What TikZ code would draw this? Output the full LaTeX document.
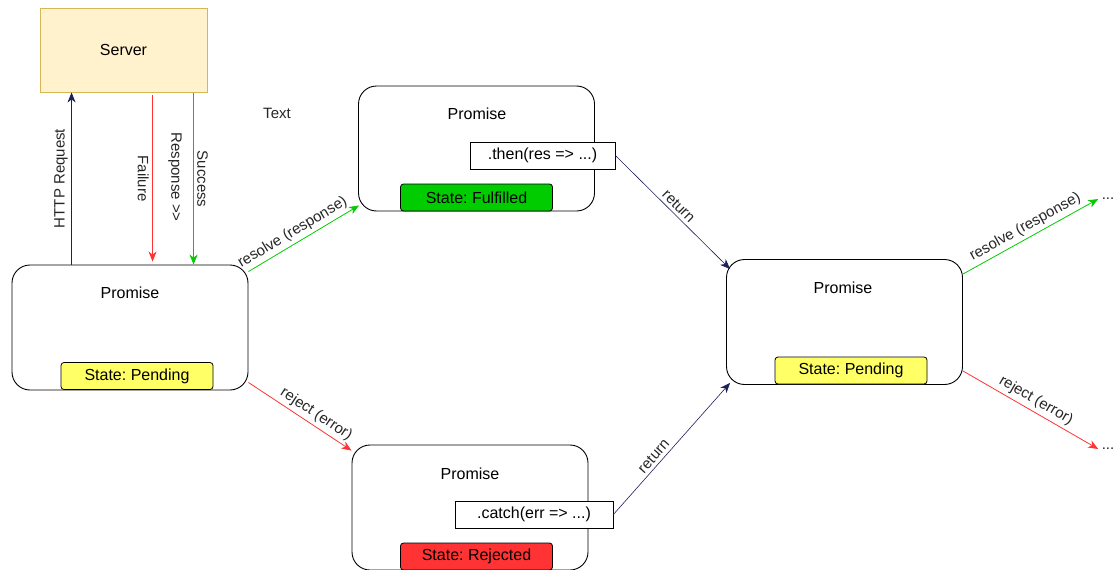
\documentclass[tikz,border=0pt]{standalone}
\usepackage{fontspec}
\setmainfont{Liberation Sans}
\usetikzlibrary{arrows.meta,calc}
\frenchspacing

\definecolor{srvfill}{HTML}{FFF2CC}
\definecolor{srvline}{HTML}{D6B656}
\definecolor{navyline}{HTML}{1F1F5C}
\definecolor{okgreen}{HTML}{00CC00}
\definecolor{errred}{HTML}{FF3333}
\definecolor{pendyellow}{HTML}{FFFF66}

\tikzset{
    promise/.style={draw, rounded corners=18pt, minimum width=236pt, minimum height=125pt, line width=0.9pt, inner sep=0pt},
    statebox/.style={draw, rounded corners=3pt, minimum width=152pt, minimum height=27pt, inner sep=0pt, line width=0.8pt},
    callbox/.style={draw, fill=white, minimum height=27pt, inner sep=0pt, line width=0.8pt},
    flow/.style={-{Stealth[length=10pt,width=8pt,inset=3pt]}, line width=0.8pt},
    lbl/.style={font=\fontsize{15}{17}\selectfont, text=black!85},
}

\begin{document}
\begin{tikzpicture}[x=1pt, y=-1pt, font=\fontsize{16}{18}\selectfont]

    \useasboundingbox (0,0) rectangle (1117,570);

    % Server
    \node[draw=srvline, fill=srvfill, line width=0.9pt, minimum width=167pt, minimum height=84pt] (server) at (123.5,50) {Server};
    \node[lbl] (note) at (277,113) {Text};

    % Promise (pending, left)
    \node[promise] (p1) at (130,327.5) {};
    \node (p1title) at (130,293) {Promise};
    \node[statebox, fill=pendyellow] (p1state) at (137,376) {State: Pending};

    % Promise (fulfilled, top)
    \node[promise] (p2) at (476.5,148.5) {};
    \node (p2title) at (477,114) {Promise};
    \node[callbox, minimum width=145pt] (then) at (542.5,155.5) {.then(res => ...)};
    \node[statebox, fill=okgreen] (p2state) at (476.5,197.5) {State: Fulfilled};

    % Promise (rejected, bottom)
    \node[promise] (p3) at (470,507.5) {};
    \node (p3title) at (470,474) {Promise};
    \node[callbox, minimum width=158pt] (catch) at (534,514.5) {.catch(err => ...)};
    \node[statebox, fill=errred] (p3state) at (476.5,556.5) {State: Rejected};

    % Promise (pending, right)
    \node[promise] (p4) at (844.5,322) {};
    \node (p4title) at (843,288) {Promise};
    \node[statebox, fill=pendyellow] (p4state) at (851,370.5) {State: Pending};

    % next steps
    \node[lbl] (nextok) at (1108,199) {...};
    \node[lbl] (nexterr) at (1108,449) {...};

    % request and answers between server and promise
    \coordinate (req) at ($(server.south west)+(32,0)$);
    \coordinate (fail) at ($(server.south west)+(113,3)$);
    \coordinate (succ) at ($(server.south west)+(154,1)$);
    \draw[flow, navyline] (req |- p1.north) -- node[lbl, rotate=90, anchor=south] {HTTP Request} (req);
    \draw[flow, errred] (fail) -- node[lbl, rotate=-90, anchor=north] {Failure} ($(fail |- p1.north)+(0,-3)$);
    \draw[flow, okgreen] (succ) -- node[lbl, rotate=-90, anchor=south] {Success} (succ |- p1.north);
    \node[lbl, rotate=-90] (resp) at (175,177) {Response >\kern0pt>};

    % resolve / reject of the first promise
    \draw[flow, okgreen] ($(p1.north east)+(0,7)$) -- node[lbl, sloped, above, pos=0.45] {resolve (response)} ($(p2.south west)+(1,-6)$);
    \draw[flow, errred] ($(p1.south east)+(0,-8)$) -- node[lbl, sloped, above, pos=0.6] {reject (error)} ($(p3.north west)+(0,6)$);

    % handlers return a new promise
    \draw[flow, navyline, line width=0.6pt] (then.east) -- node[lbl, sloped, above] {return} ($(p4.north west)+(4,10)$);
    \draw[flow, navyline, line width=0.6pt] (catch.east) -- node[lbl, sloped, above, pos=0.4] {return} ($(p4.south west)+(4,-2)$);

    % resolve / reject of the last promise
    \draw[flow, okgreen] ($(p4.north east)+(0,15)$) -- node[lbl, sloped, above] {resolve (response)} (nextok.west);
    \draw[flow, errred] ($(p4.south east)+(0,-14)$) -- node[lbl, sloped, above] {reject (error)} (nexterr.west);

\end{tikzpicture}
\end{document}
